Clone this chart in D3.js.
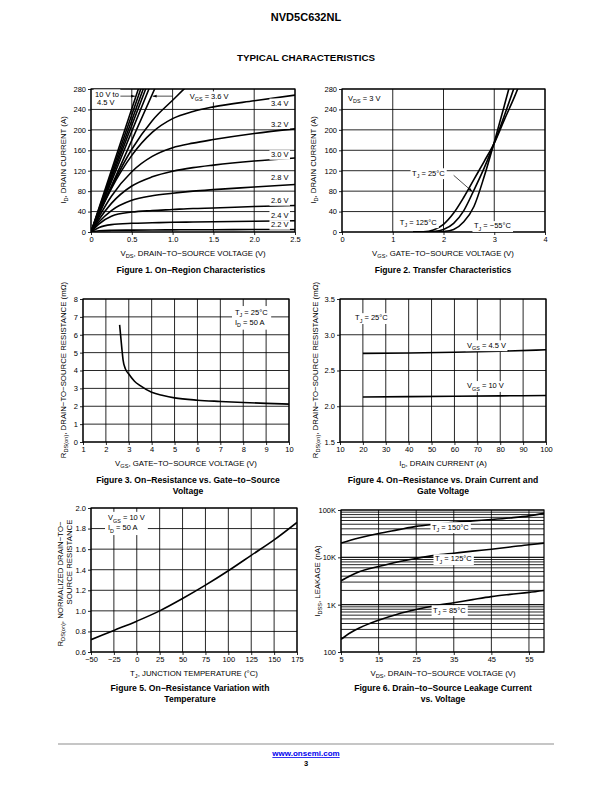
<!DOCTYPE html>
<html><head><meta charset="utf-8">
<script src="https://cdn.jsdelivr.net/npm/d3@7"></script>
<style>
body{margin:0;background:#fff}
svg{display:block}
text{font-family:"Liberation Sans",Arial,Helvetica,sans-serif;fill:#000}
</style>
</head><body>
<svg id="c" width="612" height="792"></svg>
<script>
// ---------------- DATA ----------------
// Figure 1: On-Region Characteristics
const f1Vds = [0, 0.1, 0.25, 0.5, 0.75, 1.0, 1.25, 1.5, 2.0, 2.5];
const f1Id_3v6 = [0, 38, 88, 162, 218, 258, 296, 325, 360, 385];
const f1Id_3v4 = [0, 36, 85, 150, 195, 222, 236, 245, 257, 268];
const f1Id_3v2 = [0, 30, 70, 118, 148, 165, 174, 181, 193, 202];
const f1Id_3v0 = [0, 25, 56, 90, 108, 119, 126, 131, 139, 145];
const f1Id_2v8 = [0, 20, 42, 62, 71, 76, 80, 83, 88, 93];
const f1Id_2v6 = [0, 16, 31, 39, 42, 44, 46, 47, 50, 52];
const f1Id_2v4 = [0, 9, 14.5, 17, 18, 19, 19.5, 20, 21, 22];
const f1Id_2v2 = [0, 2.5, 3.3, 3.7, 4, 4.2, 4.4, 4.5, 4.8, 5];
const f1BundleVdsAt280A = [0.58, 0.61, 0.64, 0.67, 0.71, 0.78]; // 10 V ... 4.5 V
const f1CurveLabels = ["3.4 V", "3.2 V", "3.0 V", "2.8 V", "2.6 V", "2.4 V", "2.2 V"];
const f1XTicks = [0, 0.5, 1.0, 1.5, 2.0, 2.5];
const f1YTicks = [0, 40, 80, 120, 160, 200, 240, 280];

// Figure 2: Transfer Characteristics
const f2Vgs = [1.4, 1.6, 1.8, 2.0, 2.2, 2.4, 2.6, 2.8, 3.0, 3.2, 3.4, 3.6];
const f2Id_125 = [0, 0.5, 4, 15, 37, 68, 103, 138, 174, 220, 265, 315];
const f2Id_25 = [0, 0, 1, 5, 17, 42, 82, 125, 174, 228, 285, 345];
const f2Id_m55 = [0, 0, 0, 1, 5, 20, 50, 108, 176, 248, 322, 400];
const f2XTicks = [0, 1, 2, 3, 4];
const f2YTicks = [0, 40, 80, 120, 160, 200, 240, 280];

// Figure 3: On-Resistance vs Gate-to-Source Voltage
const f3Vgs = [2.6, 2.7, 2.75, 2.85, 3.0, 3.25, 3.5, 4, 4.5, 5, 6, 7, 8, 9, 10];
const f3Rds = [6.55, 5.2, 4.6, 4.1, 3.8, 3.4, 3.15, 2.78, 2.6, 2.47, 2.34, 2.27, 2.21, 2.16, 2.12];
const f3XTicks = [1, 2, 3, 4, 5, 6, 7, 8, 9, 10];
const f3YTicks = [0, 1, 2, 3, 4, 5, 6, 7, 8];

// Figure 4: On-Resistance vs Drain Current
const f4Id = [20, 40, 60, 80, 100];
const f4R_4v5 = [2.74, 2.745, 2.755, 2.77, 2.79];
const f4R_10v = [2.13, 2.135, 2.14, 2.145, 2.15];
const f4XTicks = [10, 20, 30, 40, 50, 60, 70, 80, 90, 100];
const f4YTicks = [1.5, 2.0, 2.5, 3.0, 3.5];

// Figure 5: Normalized On-Resistance vs Temperature
const f5Tj = [-50, -25, 0, 25, 50, 75, 100, 125, 150, 175];
const f5R = [0.72, 0.81, 0.90, 1.0, 1.12, 1.25, 1.39, 1.54, 1.69, 1.86];
const f5XTicks = [-50, -25, 0, 25, 50, 75, 100, 125, 150, 175];
const f5YTicks = [0.6, 0.8, 1.0, 1.2, 1.4, 1.6, 1.8, 2.0];

// Figure 6: Leakage Current vs Voltage
const f6Vds = [5, 7.5, 10, 15, 20, 25, 30, 35, 40, 45, 50, 55, 59];
const f6I_150 = [20000, 23000, 26000, 32000, 38000, 45000, 50000, 55000, 59000, 63000, 68000, 75000, 85000];
const f6I_125 = [3200, 4100, 5000, 6400, 8000, 9500, 11000, 12200, 13500, 14800, 16500, 18500, 20000];
const f6I_85 = [185, 255, 325, 470, 630, 790, 950, 1100, 1280, 1480, 1650, 1820, 2000];
const f6XTicks = [5, 15, 25, 35, 45, 55];
const f6YTicks = [100, 1000, 10000, 100000];
const f6YLabels = ["100", "1K", "10K", "100K"];

// ---------------- HELPERS ----------------
const svg = d3.select("#c");
const TS = 7.5;   // tick font size
const AS = 7.8;   // axis title size
const CS = 8.6;   // caption size

function richText(t, s, size) {
  const re = /_\{([^}]*)\}/g;
  let last = 0, m, pend = 0;
  const sh = size * 0.3;
  while ((m = re.exec(s))) {
    if (m.index > last) {
      const ts = t.append("tspan").text(s.slice(last, m.index));
      if (pend) { ts.attr("dy", pend); pend = 0; }
    }
    t.append("tspan").attr("dy", pend + sh).attr("font-size", size * 0.72).text(m[1]);
    pend = -sh;
    last = re.lastIndex;
  }
  if (last < s.length) {
    const ts = t.append("tspan").text(s.slice(last));
    if (pend) ts.attr("dy", pend);
  }
}

function label(g, x, y, s, o = {}) {
  const size = o.size || TS;
  const t = g.append("text").attr("x", x).attr("y", y)
    .attr("font-size", size)
    .attr("text-anchor", o.anchor || "start")
    .attr("font-weight", o.weight || "normal");
  if (o.rotate) t.attr("transform", `rotate(-90,${x},${y})`);
  if (o.fill) t.style("fill", o.fill);
  richText(t, s, size);
  if (o.bg) {
    const b = t.node().getBBox();
    g.insert("rect", () => t.node())
      .attr("x", b.x - 1.5).attr("y", b.y - 0.3)
      .attr("width", b.width + 3).attr("height", b.height + 0.6)
      .attr("fill", "#fff");
  }
  return t;
}

function arrow(g, x1, y1, x2, y2) {
  g.append("line").attr("x1", x1).attr("y1", y1).attr("x2", x2).attr("y2", y2)
    .attr("stroke", "#000").attr("stroke-width", 0.7);
  const a = Math.atan2(y2 - y1, x2 - x1), L = 4, W = 1.4;
  const p = [[x2, y2],
    [x2 - L * Math.cos(a) + W * Math.sin(a), y2 - L * Math.sin(a) - W * Math.cos(a)],
    [x2 - L * Math.cos(a) - W * Math.sin(a), y2 - L * Math.sin(a) + W * Math.cos(a)]];
  g.append("path").attr("d", "M" + p.join("L") + "Z").attr("fill", "#000");
}

let clipN = 0;
function makeChart(c) {
  const g = svg.append("g");
  const x = c.x.range([c.L, c.R]);
  const y = c.y.range([c.B, c.T]);
  const id = "clip" + (clipN++);
  svg.append("clipPath").attr("id", id).append("rect")
    .attr("x", c.L).attr("y", c.T).attr("width", c.R - c.L).attr("height", c.B - c.T);
  const grid = g.append("g").attr("stroke", "#000").attr("stroke-width", 0.85);
  grid.selectAll("line.gx").data(c.xGrid).join("line").attr("class", "gx")
    .attr("x1", d => x(d)).attr("x2", d => x(d)).attr("y1", c.T).attr("y2", c.B);
  grid.selectAll("line.gy").data(c.yGrid).join("line").attr("class", "gy")
    .attr("y1", d => y(d)).attr("y2", d => y(d)).attr("x1", c.L).attr("x2", c.R);

  const ax = g.append("g").attr("transform", `translate(0,${c.B})`)
    .call(d3.axisBottom(x).tickValues(c.xTicks).tickFormat(c.xFmt).tickSize(3).tickPadding(2));
  const ay = g.append("g").attr("transform", `translate(${c.L},0)`)
    .call(d3.axisLeft(y).tickValues(c.yTicks).tickFormat(c.yFmt).tickSize(3).tickPadding(2));
  [ax, ay].forEach(a => {
    a.select(".domain").remove();
    a.attr("font-family", null).attr("font-size", null);
    a.selectAll("text").attr("font-size", TS);
    a.selectAll("line").attr("stroke-width", 0.85);
  });
  const curves = g.append("g").attr("clip-path", `url(#${id})`);
  g.append("rect").attr("x", c.L).attr("y", c.T).attr("width", c.R - c.L).attr("height", c.B - c.T)
    .attr("fill", "none").attr("stroke", "#000").attr("stroke-width", 1.2);
  const top = g.append("g");
  function curve(xs, ys, curveType) {
    const line = d3.line().x(d => x(d[0])).y(d => y(d[1])).curve(curveType || d3.curveMonotoneX);
    curves.append("path").attr("d", line(d3.zip(xs, ys)))
      .attr("fill", "none").attr("stroke", "#000").attr("stroke-width", 1.6);
  }
  return { g, x, y, curve, top };
}

const fmt1 = d3.format(".1f");
const minus = s => String(s).replace("-", "\u2212");

// ---------------- PAGE TEXT ----------------
label(svg, 306, 21, "NVD5C632NL", { size: 11, weight: "bold", anchor: "middle" });
label(svg, 306, 61, "TYPICAL CHARACTERISTICS", { size: 9.8, weight: "bold", anchor: "middle" });

// ---------------- FIGURE 1 ----------------
{
  const c = makeChart({ L: 91, R: 295, T: 89, B: 232,
    x: d3.scaleLinear().domain([0, 2.5]), y: d3.scaleLinear().domain([0, 280]),
    xTicks: f1XTicks, yTicks: f1YTicks, xGrid: f1XTicks, yGrid: f1YTicks,
    xFmt: d => d === 0 ? "0" : fmt1(d), yFmt: d => d });
  f1BundleVdsAt280A.forEach(v => c.curve([0, v, v * 1.1], [0, 280, 308], d3.curveLinear));
  [f1Id_3v6, f1Id_3v4, f1Id_3v2, f1Id_3v0, f1Id_2v8, f1Id_2v6, f1Id_2v4, f1Id_2v2]
    .forEach(a => c.curve(f1Vds, a));
  const labY = [247, 206.5, 146, 101, 56, 28, 9];
  f1CurveLabels.forEach((s, i) => label(c.top, c.x(2.42), c.y(labY[i]), s, { anchor: "end", bg: true }));
  label(c.top, c.x(0.05), c.y(265), "10 V to", { bg: true });
  label(c.top, c.x(0.075), c.y(248.5), "4.5 V", { bg: true });
  arrow(c.top, c.x(0.36), c.y(266), c.x(0.54), c.y(266));
  label(c.top, c.x(1.21), c.y(261), "V_{GS} = 3.6 V", { bg: true });
  arrow(c.top, c.x(1.0), c.y(266), c.x(0.755), c.y(266));
  label(svg, 193, 256, "V_{DS}, DRAIN\u2212TO\u2212SOURCE VOLTAGE (V)", { size: AS, anchor: "middle" });
  label(svg, 66, 160, "I_{D}, DRAIN CURRENT (A)", { size: AS, anchor: "middle", rotate: true });
  label(svg, 191, 273, "Figure 1. On\u2212Region Characteristics", { size: CS, weight: "bold", anchor: "middle" });
}

// ---------------- FIGURE 2 ----------------
{
  const c = makeChart({ L: 342, R: 545, T: 89, B: 232,
    x: d3.scaleLinear().domain([0, 4]), y: d3.scaleLinear().domain([0, 280]),
    xTicks: f2XTicks, yTicks: f2YTicks, xGrid: f2XTicks, yGrid: f2YTicks,
    xFmt: d => d, yFmt: d => d });
  [f2Id_125, f2Id_25, f2Id_m55].forEach(a => c.curve(f2Vgs, a));
  label(c.top, c.x(0.12), c.y(257), "V_{DS} = 3 V", { bg: true });
  label(c.top, c.x(1.38), c.y(110.5), "T_{J} = 25\u00B0C", { bg: true });
  arrow(c.top, c.x(2.2), c.y(111), c.x(2.57), c.y(79));
  label(c.top, c.x(1.14), c.y(14.5), "T_{J} = 125\u00B0C", { bg: true });
  label(c.top, c.x(2.6), c.y(7), "T_{J} = \u221255\u00B0C", { bg: true });
  label(svg, 443, 256, "V_{GS}, GATE\u2212TO\u2212SOURCE VOLTAGE (V)", { size: AS, anchor: "middle" });
  label(svg, 316, 160, "I_{D}, DRAIN CURRENT (A)", { size: AS, anchor: "middle", rotate: true });
  label(svg, 443, 273, "Figure 2. Transfer Characteristics", { size: CS, weight: "bold", anchor: "middle" });
}

// ---------------- FIGURE 3 ----------------
{
  const c = makeChart({ L: 83, R: 289, T: 299, B: 442,
    x: d3.scaleLinear().domain([1, 10]), y: d3.scaleLinear().domain([0, 8]),
    xTicks: f3XTicks, yTicks: f3YTicks, xGrid: f3XTicks, yGrid: f3YTicks,
    xFmt: d => d, yFmt: d => d });
  c.curve(f3Vgs, f3Rds);
  const b = c.top.append("rect").attr("fill", "#fff");
  const t1 = label(c.top, c.x(7.64), c.y(7.13), "T_{J} = 25\u00B0C");
  const t2 = label(c.top, c.x(7.64), c.y(6.55), "I_{D} = 50 A");
  const bb1 = t1.node().getBBox(), bb2 = t2.node().getBBox();
  b.attr("x", bb1.x - 3).attr("y", bb1.y - 1.5).attr("width", Math.max(bb1.width, bb2.width) + 6)
    .attr("height", bb2.y + bb2.height - bb1.y + 3);
  label(svg, 186, 466, "V_{GS}, GATE\u2212TO\u2212SOURCE VOLTAGE (V)", { size: AS, anchor: "middle" });
  label(svg, 66, 370, "R_{DS(on)}, DRAIN\u2212TO\u2212SOURCE RESISTANCE (m\u03A9)", { size: AS, anchor: "middle", rotate: true });
  label(svg, 188, 483, "Figure 3. On\u2212Resistance vs. Gate\u2212to\u2212Source", { size: CS, weight: "bold", anchor: "middle" });
  label(svg, 188, 494, "Voltage", { size: CS, weight: "bold", anchor: "middle" });
}

// ---------------- FIGURE 4 ----------------
{
  const c = makeChart({ L: 340, R: 546, T: 299, B: 442,
    x: d3.scaleLinear().domain([10, 100]), y: d3.scaleLinear().domain([1.5, 3.5]),
    xTicks: f4XTicks, yTicks: f4YTicks, xGrid: f4XTicks, yGrid: f4YTicks,
    xFmt: d => d, yFmt: d => fmt1(d) });
  c.curve(f4Id, f4R_4v5);
  c.curve(f4Id, f4R_10v);
  label(c.top, c.x(16.6), c.y(3.2), "T_{J} = 25\u00B0C", { bg: true });
  label(c.top, c.x(65.5), c.y(2.82), "V_{GS} = 4.5 V", { bg: true });
  label(c.top, c.x(65.5), c.y(2.25), "V_{GS} = 10 V", { bg: true });
  label(svg, 443, 466, "I_{D}, DRAIN CURRENT (A)", { size: AS, anchor: "middle" });
  label(svg, 318, 370, "R_{DS(on)}, DRAIN\u2212TO\u2212SOURCE RESISTANCE (m\u03A9)", { size: AS, anchor: "middle", rotate: true });
  label(svg, 443, 483, "Figure 4. On\u2212Resistance vs. Drain Current and", { size: CS, weight: "bold", anchor: "middle" });
  label(svg, 443, 494, "Gate Voltage", { size: CS, weight: "bold", anchor: "middle" });
}

// ---------------- FIGURE 5 ----------------
{
  const c = makeChart({ L: 91, R: 297, T: 508, B: 652,
    x: d3.scaleLinear().domain([-50, 175]), y: d3.scaleLinear().domain([0.6, 2.0]),
    xTicks: f5XTicks, yTicks: f5YTicks, xGrid: f5XTicks, yGrid: f5YTicks,
    xFmt: d => minus(d), yFmt: d => fmt1(d) });
  c.curve(f5Tj, f5R);
  const b = c.top.append("rect").attr("fill", "#fff");
  const t1 = label(c.top, c.x(-31.4), c.y(1.88), "V_{GS} = 10 V");
  const t2 = label(c.top, c.x(-31.4), c.y(1.783), "I_{D} = 50 A");
  const bb1 = t1.node().getBBox(), bb2 = t2.node().getBBox();
  b.attr("x", bb1.x - 3).attr("y", bb1.y - 1.5).attr("width", Math.max(bb1.width, bb2.width) + 6)
    .attr("height", bb2.y + bb2.height - bb1.y + 3);
  label(svg, 194, 676, "T_{J}, JUNCTION TEMPERATURE (\u00B0C)", { size: AS, anchor: "middle" });
  label(svg, 63, 584, "R_{DS(on)}, NORMALIZED DRAIN\u2212TO\u2212", { size: AS, anchor: "middle", rotate: true });
  label(svg, 72, 562, "SOURCE RESISTANCE", { size: AS, anchor: "middle", rotate: true });
  label(svg, 190, 691, "Figure 5. On\u2212Resistance Variation with", { size: CS, weight: "bold", anchor: "middle" });
  label(svg, 190, 702, "Temperature", { size: CS, weight: "bold", anchor: "middle" });
}

// ---------------- FIGURE 6 ----------------
{
  const minor = [];
  [100, 1000, 10000].forEach(d => { for (let k = 1; k <= 10; k++) minor.push(d * k); });
  const c = makeChart({ L: 341, R: 544, T: 510, B: 652,
    x: d3.scaleLinear().domain([5, 59]), y: d3.scaleLog().domain([100, 100000]),
    xTicks: f6XTicks, yTicks: f6YTicks, xGrid: f6XTicks, yGrid: minor,
    xFmt: d => d, yFmt: (d, i) => f6YLabels[i] });
  c.curve(f6Vds, f6I_150);
  c.curve(f6Vds, f6I_125);
  c.curve(f6Vds, f6I_85);
  label(c.top, c.x(29.2), c.y(38700), "T_{J} = 150\u00B0C", { bg: true });
  label(c.top, c.x(30), c.y(8170), "T_{J} = 125\u00B0C", { bg: true });
  label(c.top, c.x(29.5), c.y(682), "T_{J} = 85\u00B0C", { bg: true });
  label(svg, 443, 676, "V_{DS}, DRAIN\u2212TO\u2212SOURCE VOLTAGE (V)", { size: AS, anchor: "middle" });
  label(svg, 320, 581, "I_{DSS}, LEAKAGE (nA)", { size: AS, anchor: "middle", rotate: true });
  label(svg, 443, 691, "Figure 6. Drain\u2212to\u2212Source Leakage Current", { size: CS, weight: "bold", anchor: "middle" });
  label(svg, 443, 702, "vs. Voltage", { size: CS, weight: "bold", anchor: "middle" });
}

// ---------------- FOOTER ----------------
svg.append("line").attr("x1", 58).attr("x2", 554).attr("y1", 744).attr("y2", 744)
  .attr("stroke", "#b3b3b3").attr("stroke-width", 1.6);
label(svg, 306, 756, "www.onsemi.com", { size: 8, weight: "bold", anchor: "middle", fill: "#0000ee" })
  .attr("text-decoration", "underline");
label(svg, 306, 766, "3", { size: 7.5, weight: "bold", anchor: "middle" });
</script>
</body></html>
